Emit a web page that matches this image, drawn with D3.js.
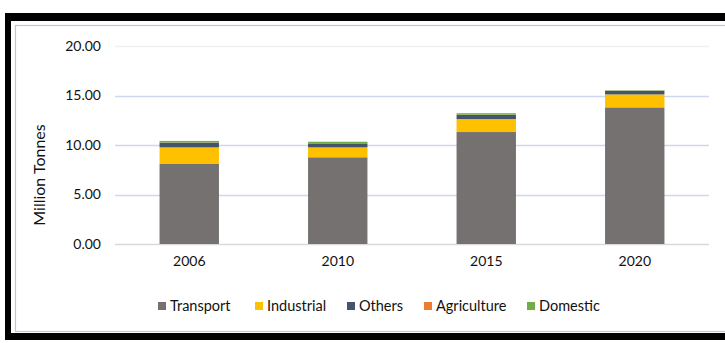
<!DOCTYPE html>
<html>
<head>
<meta charset="utf-8">
<script src="https://cdn.jsdelivr.net/npm/d3@7"></script>
<style>
  body { margin: 0; background: #fff; }
  svg { display: block; font-family: Lato, "Open Sans", sans-serif; }
</style>
</head>
<body>
<svg id="chart" width="725" height="343"></svg>
<script>
// data
var years = ["2006", "2010", "2015", "2020"];
var transport = [8.08, 8.76, 11.31, 13.80];
var industrial = [1.68, 1.00, 1.31, 1.31];
var others = [0.48, 0.40, 0.42, 0.37];
var agriculture = [0.02, 0.02, 0.02, 0.01];
var domestic = [0.15, 0.15, 0.15, 0.03];
var seriesNames = ["Transport", "Industrial", "Others", "Agriculture", "Domestic"];
var seriesColors = ["#767171", "#ffc000", "#44546a", "#ed7d31", "#70ad47"];
var yTicks = [0, 5, 10, 15, 20];

var rows = years.map(function(y, i) {
    return { year: y, Transport: transport[i], Industrial: industrial[i],
             Others: others[i], Agriculture: agriculture[i], Domestic: domestic[i] };
});

var svg = d3.select("#chart");

// frame: black outer band, white inside, thin blue chart border
svg.append("rect").attr("x", 5).attr("y", 13).attr("width", 800).attr("height", 327).attr("fill", "#000");
svg.append("rect").attr("x", 11).attr("y", 21).attr("width", 800).attr("height", 312).attr("fill", "#fff");
svg.append("rect").attr("x", 15.5).attr("y", 25.5).attr("width", 800).attr("height", 306)
    .attr("fill", "none").attr("stroke", "#b4c7e7").attr("stroke-width", 1.2);

var x = d3.scaleBand()
    .domain(years)
    .range([115, 709])
    .paddingInner(0.6)
    .paddingOuter(0.3);

var y = d3.scaleLinear()
    .domain([0, 20])
    .range([244, 46]);

var color = d3.scaleOrdinal().domain(seriesNames).range(seriesColors);

// gridlines
svg.append("g").selectAll("line")
    .data(yTicks)
    .enter().append("line")
    .attr("x1", 115).attr("x2", 709)
    .attr("y1", function(d) { return Math.round(y(d)) + 0.5; })
    .attr("y2", function(d) { return Math.round(y(d)) + 0.5; })
    .attr("stroke", function(d) { return d === 0 ? "#d9d9d9" : (d === 20 ? "#eef0f4" : "#cdd7ee"); })
    .attr("stroke-width", 1.5);

// y axis labels
var yAxis = svg.append("g")
    .attr("transform", "translate(101,0)")
    .call(d3.axisLeft(y).tickValues(yTicks).tickSize(0).tickPadding(0)
        .tickFormat(d3.format(".2f")));
yAxis.select(".domain").remove();
yAxis.selectAll("text").attr("font-size", 14).attr("fill", "#111")
    .attr("font-family", "Lato, sans-serif");

// x axis labels
var xAxis = svg.append("g")
    .attr("transform", "translate(0,256)")
    .call(d3.axisBottom(x).tickSize(0).tickPadding(0));
xAxis.select(".domain").remove();
xAxis.selectAll("text").attr("font-size", 14).attr("fill", "#111")
    .attr("font-family", "Lato, sans-serif");

// axis title
svg.append("text")
    .attr("transform", "translate(45,175) rotate(-90)")
    .attr("text-anchor", "middle")
    .attr("font-size", 16)
    .attr("fill", "#111")
    .text("Million Tonnes");

// stacked bars
var stacked = d3.stack().keys(seriesNames)(rows);

svg.append("g").selectAll("g")
    .data(stacked)
    .enter().append("g")
    .attr("fill", function(d) { return color(d.key); })
    .selectAll("rect")
    .data(function(d) { return d; })
    .enter().append("rect")
    .attr("x", function(d) { return x(d.data.year); })
    .attr("width", x.bandwidth())
    .attr("y", function(d) { return y(d[1]); })
    .attr("height", function(d) { return y(d[0]) - y(d[1]); });

// legend
var legendX = [158, 255, 347, 424, 527];
var legend = svg.append("g").selectAll("g")
    .data(seriesNames)
    .enter().append("g")
    .attr("transform", function(d, i) { return "translate(" + legendX[i] + ",306)"; });

legend.append("rect")
    .attr("x", 0).attr("y", -4).attr("width", 8).attr("height", 8)
    .attr("fill", function(d) { return color(d); });

legend.append("text")
    .attr("x", 12).attr("y", 5)
    .attr("font-size", 14.5)
    .attr("fill", "#111")
    .text(function(d) { return d; });
</script>
</body>
</html>
